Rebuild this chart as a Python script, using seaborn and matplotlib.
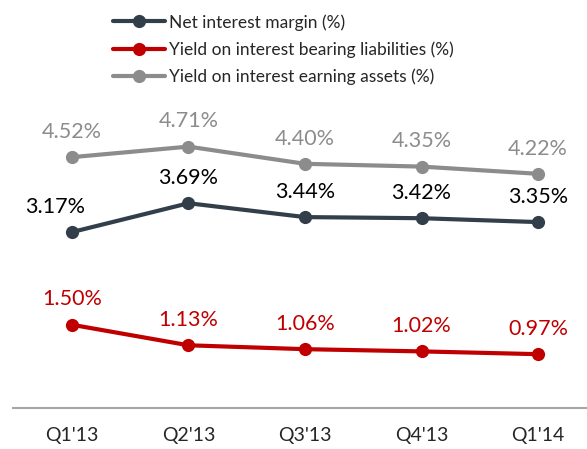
import matplotlib
matplotlib.use("Agg")
import matplotlib.pyplot as plt
import seaborn as sns
import pandas as pd

quarters = ["Q1'13", "Q2'13", "Q3'13", "Q4'13", "Q1'14"]
nim = [3.17, 3.69, 3.44, 3.42, 3.35]
liabilities = [1.50, 1.13, 1.06, 1.02, 0.97]
assets = [4.52, 4.71, 4.40, 4.35, 4.22]

series_names = ["Net interest margin (%)",
                "Yield on interest bearing liabilities (%)",
                "Yield on interest earning assets (%)"]
series_vals = [nim, liabilities, assets]
line_colors = ["#323F4B", "#C00000", "#8C8C8C"]
label_colors = ["#000000", "#C00000", "#8C8C8C"]

rows = []
for name, vals in zip(series_names, series_vals):
    for i, (q, v) in enumerate(zip(quarters, vals)):
        rows.append({"quarter": q, "x": i, "value": v, "series": name})
df = pd.DataFrame(rows)

sns.set_theme(style="white")
plt.rcParams['font.family'] = ['Lato', 'DejaVu Sans']

fig = plt.figure(figsize=(5.87, 4.49), dpi=100)
ax = fig.add_axes([13/587, 41/449, 574/587, 308/449])

palette = dict(zip(series_names, line_colors))
sns.lineplot(data=df, x="x", y="value", hue="series", hue_order=series_names,
             palette=palette, marker="o", markersize=9.5, linewidth=3.0,
             markeredgewidth=0, ax=ax, legend=True)

for name, vals, lc in zip(series_names, series_vals, label_colors):
    for i, v in enumerate(vals):
        dx = -12 if (name == series_names[0] and i == 0) else 0
        ax.annotate(f"{v:.2f}%", (i, v), xytext=(dx, 11), textcoords="offset points",
                    ha="center", va="bottom", fontsize=15.5, color=lc)

ax.set_xlim(-0.506, 4.42)
ax.set_ylim(0, 5.55)
ax.set_xticks(range(len(quarters)))
ax.set_xticklabels(quarters, fontsize=14)
ax.set_yticks([])
ax.set_xlabel("")
ax.set_ylabel("")
for s in ["top", "right", "left"]:
    ax.spines[s].set_visible(False)
ax.spines["bottom"].set_color("#A6A6A6")
ax.spines["bottom"].set_linewidth(1.5)
ax.tick_params(axis="x", length=0, pad=14)

handles, labels = ax.get_legend_handles_labels()
leg = fig.legend(handles, labels, loc="upper left", bbox_to_anchor=(106/587, 1.0 - 7/449),
                 frameon=False, fontsize=12.5, handlelength=3.0, handletextpad=0.25,
                 labelspacing=0.62, borderaxespad=0)
ax.get_legend().remove()

fig.savefig("out.png", dpi=100)
